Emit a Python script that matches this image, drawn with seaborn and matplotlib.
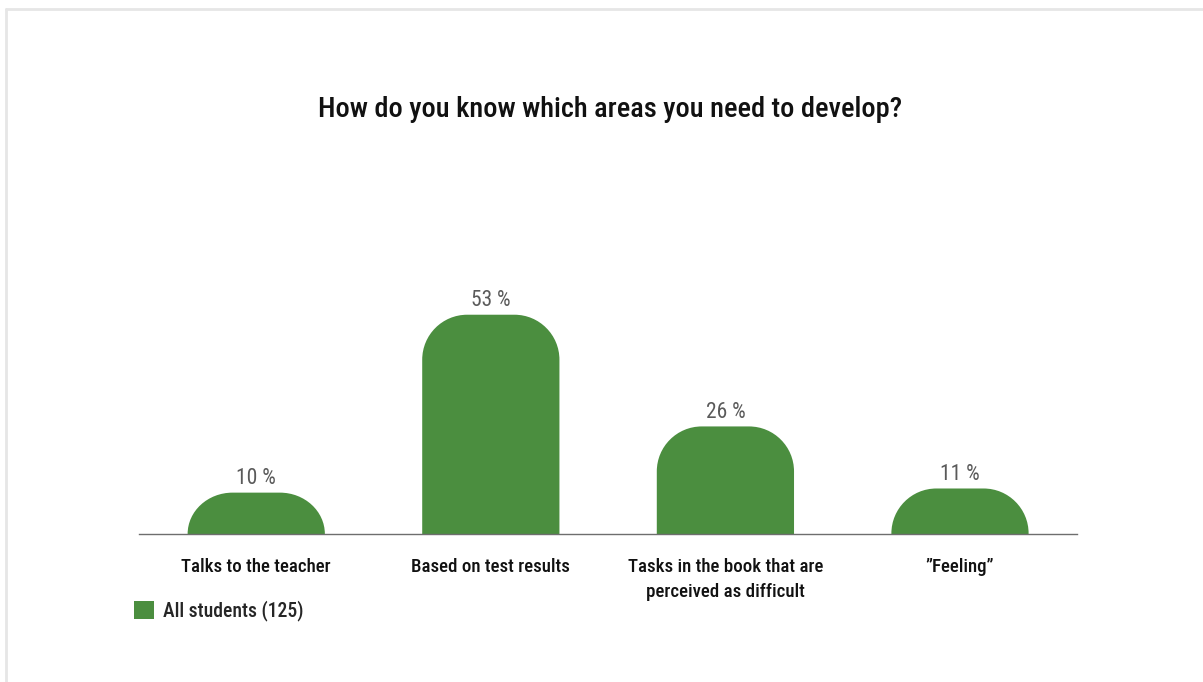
import matplotlib
matplotlib.use("Agg")
import matplotlib.pyplot as plt
from matplotlib import font_manager
from matplotlib.path import Path
from matplotlib.patches import PathPatch, Patch
from matplotlib.lines import Line2D
import seaborn as sns
import pandas as pd

categories = [
    "Talks to the teacher",
    "Based on test results",
    "Tasks in the book that are\nperceived as difficult",
    "\u201dFeeling\u201d",
]
percent = [10, 53, 26, 11]
series_name = "All students (125)"
title = "How do you know which areas you need to develop?"

GREEN = "#4b8e3f"

# pick a narrow sans face if one is available
entries = font_manager.fontManager.ttflist
names = {f.name for f in entries}
family, stretch = "DejaVu Sans", "normal"
for cand in ["Roboto Condensed", "Liberation Sans Narrow", "Noto Sans Condensed",
             "Open Sans Condensed", "DejaVu Sans Condensed"]:
    if cand in names:
        family = cand
        break
else:
    for cand in ["Noto Sans", "Open Sans", "DejaVu Sans", "Roboto"]:
        if any(f.name == cand and f.stretch in ("condensed", "semi-condensed",
               "extra-condensed", 75, 87.5) for f in entries):
            family, stretch = cand, "condensed"
            break
    else:
        family = "Roboto" if "Roboto" in names else "DejaVu Sans"

sns.set_theme(style="white")
plt.rcParams["font.family"] = [family, "DejaVu Sans"]
plt.rcParams["font.stretch"] = stretch

df = pd.DataFrame({"category": categories, "percent": percent})

fig = plt.figure(figsize=(12.03, 6.82), dpi=100)
ax = fig.add_axes([0.1155, 0.217, 0.78, 0.364])
renderer = fig.canvas.get_renderer()


def fit_size(text, width_px, base=14.0, weight="medium"):
    """Font size at which `text` spans `width_px` pixels."""
    t = fig.text(0, 0, text, fontsize=base, weight=weight)
    w = t.get_window_extent(renderer).width
    t.remove()
    return base * width_px / w


title_size = fit_size(title, 589)
tick_size = fit_size("Talks to the teacher", 151)
value_size = fit_size("53 %", 40, weight="normal")
legend_size = fit_size(series_name, 141)

sns.barplot(data=df, x="category", y="percent", color=GREEN, width=0.585,
            saturation=1, ax=ax)
ax.set_xlim(-0.5, 3.5)
ax.set_ylim(0, 60)

# replace the square bars with bars whose top corners are rounded
fig.canvas.draw()
px_per_x = ax.transData.transform((1, 0))[0] - ax.transData.transform((0, 0))[0]
px_per_y = ax.transData.transform((0, 1))[1] - ax.transData.transform((0, 0))[1]
radius_px = 45
k = 0.5523  # cubic approximation of a quarter circle
for bar in list(ax.patches):
    x0, w, h = bar.get_x(), bar.get_width(), bar.get_height()
    x1 = x0 + w
    rx = radius_px / px_per_x
    ry = min(radius_px / px_per_y, h)
    verts = [
        (x0, 0), (x0, h - ry),
        (x0, h - ry + k * ry), (x0 + rx - k * rx, h), (x0 + rx, h),
        (x1 - rx, h),
        (x1 - rx + k * rx, h), (x1, h - ry + k * ry), (x1, h - ry),
        (x1, 0), (x0, 0),
    ]
    codes = [Path.MOVETO, Path.LINETO,
             Path.CURVE4, Path.CURVE4, Path.CURVE4,
             Path.LINETO,
             Path.CURVE4, Path.CURVE4, Path.CURVE4,
             Path.LINETO, Path.CLOSEPOLY]
    ax.add_patch(PathPatch(Path(verts, codes), facecolor=GREEN,
                           edgecolor="none", zorder=2))
    bar.set_visible(False)
    ax.text(x0 + w / 2, h + 0.9, f"{int(round(h))} %", ha="center",
            va="bottom", fontsize=value_size, color="#5a5a5a")

for s in ["top", "right", "left"]:
    ax.spines[s].set_visible(False)
ax.spines["bottom"].set_color("#6e6e6e")
ax.spines["bottom"].set_linewidth(1.0)
ax.set_yticks([])
ax.set_xlabel("")
ax.set_ylabel("")
ax.tick_params(axis="x", length=0, pad=17, labelsize=tick_size,
               labelcolor="#111111")
for lbl in ax.get_xticklabels():
    lbl.set_verticalalignment("top")
    lbl.set_linespacing(1.55)
    lbl.set_fontweight("medium")

fig.text(0.507, 0.84, title, ha="center", va="center", fontsize=title_size,
         color="#111111", weight="medium")

handle = Patch(facecolor=GREEN, edgecolor="none")
fig.legend([handle], [series_name], loc="center left",
           bbox_to_anchor=(134 / 1203, 71 / 682), frameon=False,
           borderpad=0, borderaxespad=0,
           prop={"size": legend_size, "weight": "medium"},
           handlelength=1.0, handleheight=1.0, handletextpad=0.5)

# light frame along the top and left edges of the card
fig.add_artist(Line2D([6 / 1203, 6 / 1203], [0, 673 / 682],
                      transform=fig.transFigure, color="#e6e6e6", lw=2))
fig.add_artist(Line2D([6 / 1203, 1], [673 / 682, 673 / 682],
                      transform=fig.transFigure, color="#e6e6e6", lw=2))

fig.savefig("out.png", dpi=100, facecolor="white")
